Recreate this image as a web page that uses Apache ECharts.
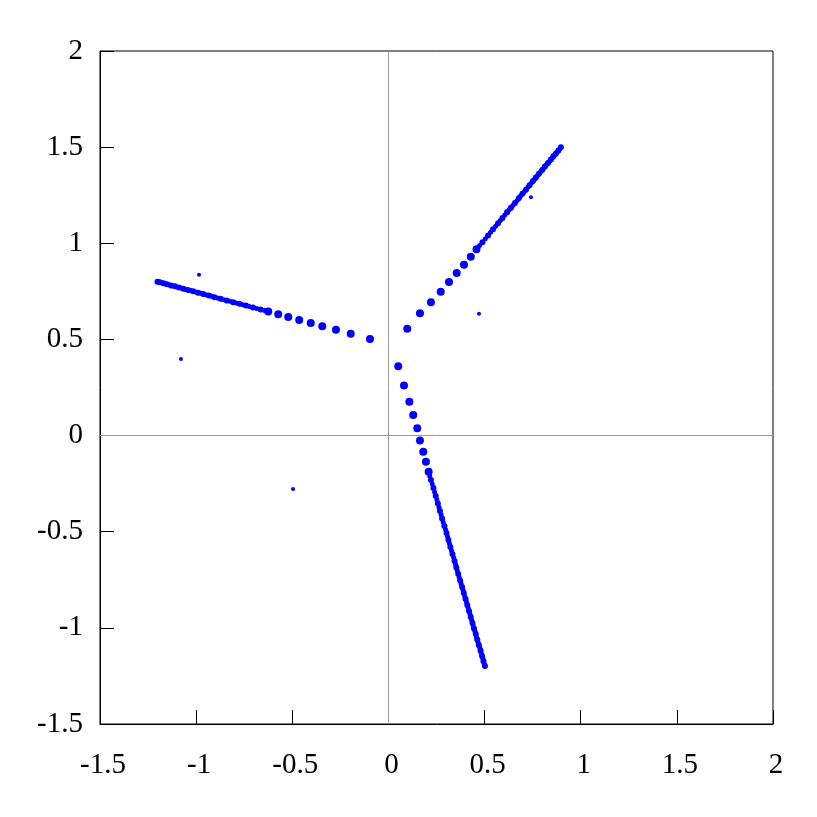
<!DOCTYPE html>
<html>
<head>
<meta charset="utf-8">
<script src="https://cdn.jsdelivr.net/npm/echarts@6/dist/echarts.min.js"></script>
<style>
  html, body { margin: 0; padding: 0; background: #fff; }
  #main { width: 817px; height: 817px; }
</style>
</head>
<body>
<div id="main"></div>
<script>
// left arm: loose clusters near the centre, then the dense part
var leftClusters = [
  [-0.096, 0.502], [-0.196, 0.529], [-0.273, 0.550], [-0.344, 0.569],
  [-0.404, 0.585], [-0.464, 0.601], [-0.521, 0.617], [-0.573, 0.631],
  [-0.625, 0.645]
];
var leftDense = [
  [-0.665, 0.656], [-0.704, 0.666], [-0.741, 0.676], [-0.775, 0.685],
  [-0.808, 0.694], [-0.841, 0.703], [-0.873, 0.712], [-0.905, 0.720],
  [-0.934, 0.728], [-0.963, 0.736], [-0.990, 0.743], [-1.016, 0.750],
  [-1.042, 0.757], [-1.066, 0.764], [-1.089, 0.770], [-1.110, 0.776],
  [-1.131, 0.781], [-1.152, 0.787], [-1.170, 0.792], [-1.188, 0.797],
  [-1.201, 0.800]
];
var leftFill = [
  [-0.645, 0.650], [-0.685, 0.661], [-0.723, 0.671], [-0.758, 0.680],
  [-0.792, 0.690], [-0.825, 0.698], [-0.857, 0.707], [-0.889, 0.716],
  [-0.920, 0.724], [-0.949, 0.732], [-0.977, 0.740], [-1.003, 0.747],
  [-1.029, 0.754], [-1.054, 0.760], [-1.078, 0.767], [-1.100, 0.773],
  [-1.121, 0.778], [-1.142, 0.784], [-1.161, 0.790], [-1.179, 0.795],
  [-1.195, 0.798]
];
// upper right arm
var upperClusters = [
  [0.098, 0.556], [0.164, 0.636], [0.221, 0.693], [0.272, 0.748],
  [0.315, 0.799], [0.355, 0.845], [0.393, 0.889], [0.428, 0.930],
  [0.458, 0.969]
];
var upperDense = [
  [0.489, 1.006], [0.518, 1.041], [0.544, 1.073], [0.570, 1.104],
  [0.593, 1.132], [0.617, 1.161], [0.637, 1.185], [0.658, 1.210],
  [0.679, 1.236], [0.697, 1.257], [0.715, 1.279], [0.734, 1.302],
  [0.752, 1.324], [0.767, 1.342], [0.783, 1.361], [0.799, 1.381],
  [0.814, 1.399], [0.830, 1.418], [0.845, 1.436], [0.858, 1.452],
  [0.871, 1.467], [0.884, 1.483], [0.897, 1.499]
];
var upperFill = [
  [0.474, 0.988], [0.504, 1.024], [0.531, 1.057], [0.557, 1.089],
  [0.582, 1.118], [0.605, 1.147], [0.627, 1.173], [0.648, 1.198],
  [0.669, 1.223], [0.688, 1.247], [0.706, 1.268], [0.725, 1.291],
  [0.743, 1.313], [0.760, 1.333], [0.775, 1.352], [0.791, 1.371],
  [0.807, 1.390], [0.822, 1.409], [0.838, 1.427], [0.852, 1.444],
  [0.865, 1.460], [0.878, 1.475], [0.891, 1.491]
];
// lower arm
var lowerClusters = [
  [0.051, 0.360], [0.081, 0.260], [0.109, 0.176], [0.129, 0.107],
  [0.150, 0.038], [0.164, -0.026], [0.181, -0.084], [0.195, -0.136],
  [0.209, -0.188]
];
var lowerDense = [
  [0.221, -0.231], [0.234, -0.273], [0.246, -0.314], [0.257, -0.353],
  [0.268, -0.392], [0.279, -0.431], [0.291, -0.470], [0.302, -0.507],
  [0.312, -0.543], [0.322, -0.579], [0.333, -0.616], [0.344, -0.652],
  [0.353, -0.686], [0.363, -0.720], [0.373, -0.754], [0.383, -0.787],
  [0.392, -0.819], [0.401, -0.850], [0.410, -0.881], [0.419, -0.912],
  [0.428, -0.944], [0.437, -0.975], [0.445, -1.003], [0.454, -1.032],
  [0.462, -1.061], [0.470, -1.089], [0.479, -1.118], [0.487, -1.146],
  [0.494, -1.172], [0.502, -1.198]
];
var lowerFill = [
  [0.215, -0.210], [0.228, -0.252], [0.240, -0.294], [0.252, -0.334],
  [0.263, -0.373], [0.274, -0.412], [0.285, -0.451], [0.297, -0.489],
  [0.307, -0.525], [0.317, -0.561], [0.328, -0.598], [0.339, -0.634],
  [0.349, -0.669], [0.358, -0.703], [0.368, -0.737], [0.378, -0.771],
  [0.388, -0.803], [0.397, -0.835], [0.406, -0.866], [0.415, -0.897],
  [0.424, -0.928], [0.433, -0.960], [0.441, -0.989], [0.450, -1.018],
  [0.458, -1.047], [0.466, -1.075], [0.475, -1.104], [0.483, -1.132],
  [0.491, -1.159], [0.498, -1.185]
];
// stray points
var strays = [
  [0.741, 1.239], [0.471, 0.634], [-0.985, 0.837], [-1.079, 0.398],
  [-0.496, -0.278]
];

var axisMin = -1.5, axisMax = 2, axisStep = 0.5;
var blue = '#0000ff';
var labelFont = { color: '#000', fontFamily: 'Liberation Serif', fontSize: 29 };

function dots(data, size) {
  return {
    type: 'scatter',
    data: data,
    symbolSize: size,
    itemStyle: { color: blue, opacity: 1 },
    silent: true
  };
}

var zeroLines = dots([], 1);
zeroLines.markLine = {
  silent: true,
  symbol: 'none',
  label: { show: false },
  lineStyle: { color: '#999', width: 1, type: 'solid' },
  data: [{ xAxis: 0 }, { yAxis: 0 }]
};

var chart = echarts.init(document.getElementById('main'));
chart.setOption({
  animation: false,
  grid: {
    left: 100, right: 44, top: 51, bottom: 93,
    show: true, borderColor: '#000', borderWidth: 1
  },
  xAxis: {
    type: 'value', min: axisMin, max: axisMax, interval: axisStep,
    axisLine: { show: true, onZero: false, lineStyle: { color: '#000' } },
    axisTick: { show: true, inside: true, length: 14, lineStyle: { color: '#000' } },
    axisLabel: Object.assign({ margin: 27, padding: [0, 0, 0, 6] }, labelFont),
    splitLine: { show: false }
  },
  yAxis: {
    type: 'value', min: axisMin, max: axisMax, interval: axisStep,
    axisLine: { show: true, onZero: false, lineStyle: { color: '#000' } },
    axisTick: { show: true, inside: true, length: 14, lineStyle: { color: '#000' } },
    axisLabel: Object.assign({ margin: 17, padding: [5, 0, 0, 0] }, labelFont),
    splitLine: { show: false }
  },
  series: [
    zeroLines,
    dots(leftFill, 5), dots(leftDense, 6), dots(leftClusters, 8),
    dots(upperFill, 5), dots(upperDense, 6), dots(upperClusters, 8),
    dots(lowerFill, 5), dots(lowerDense, 6), dots(lowerClusters, 8),
    dots(strays, 4)
  ]
});
</script>
</body>
</html>
